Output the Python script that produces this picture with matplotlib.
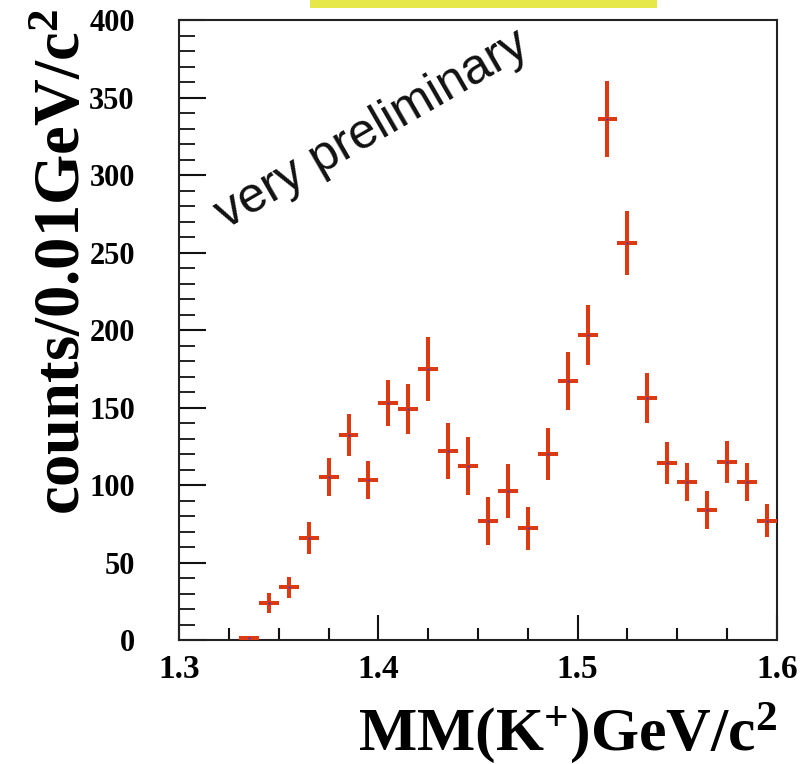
import matplotlib
matplotlib.use("Agg")
import matplotlib.pyplot as plt
from matplotlib.patches import Rectangle
from matplotlib.ticker import MultipleLocator

# ---- data ----
mass = [1.335, 1.345, 1.355, 1.365, 1.375, 1.385, 1.395, 1.405, 1.415, 1.425,
        1.435, 1.445, 1.455, 1.465, 1.475, 1.485, 1.495, 1.505, 1.515, 1.525,
        1.535, 1.545, 1.555, 1.565, 1.575, 1.585, 1.595]
counts = [1, 24, 34, 66, 105, 132, 103, 153, 149, 175,
          122, 112, 77, 96, 72, 120, 167, 197, 336, 256,
          156, 114, 102, 84, 115, 102, 77]
count_err = [1, 6.3, 6.8, 10.2, 12.2, 13.5, 12.2, 14.7, 16, 20.8,
             18, 18.7, 15.4, 17.5, 14, 16.7, 18.7, 19.3, 24.6, 20.7,
             16, 13.5, 12.2, 12.2, 13.5, 12.2, 10.8]
bin_half = 0.005
xticks = [1.3, 1.4, 1.5, 1.6]
xticklabels = ["1.3", "1.4", "1.5", "1.6"]
yticks = [0, 50, 100, 150, 200, 250, 300, 350, 400]

plt.rcParams['mathtext.fontset'] = 'custom'
plt.rcParams['mathtext.rm'] = 'Liberation Serif:bold'
plt.rcParams['mathtext.bf'] = 'Liberation Serif:bold'
plt.rcParams['mathtext.default'] = 'rm'

fig = plt.figure(figsize=(8.0, 7.64), dpi=100)
ax = fig.add_axes([0.224, 0.1623, 0.747, 0.8115])

red = '#dd3a12'
ax.errorbar(mass, counts, yerr=count_err, xerr=bin_half, fmt='o', ms=1.6,
            mfc='#3a3ad0', mec='none', ecolor=red, elinewidth=2.9, capsize=0,
            zorder=3)

ax.set_xlim(1.3, 1.6)
ax.set_ylim(0, 400)
ax.set_xticks(xticks)
ax.set_xticklabels(xticklabels)
ax.set_yticks(yticks)
ax.xaxis.set_minor_locator(MultipleLocator(0.025))
ax.yaxis.set_minor_locator(MultipleLocator(10))

for s in ax.spines.values():
    s.set_linewidth(1.5)
    s.set_color('#222222')

ax.tick_params(axis='both', which='both', direction='in', color='#111111')
ax.tick_params(axis='x', which='major', length=18, width=1.5, pad=10)
ax.tick_params(axis='x', which='minor', length=9, width=1.5)
ax.tick_params(axis='y', which='major', length=19.5, width=1.5, pad=32)
ax.tick_params(axis='y', which='minor', length=11.3, width=1.3)
ax.tick_params(top=False, right=False, which='both')

for lab in ax.get_xticklabels():
    lab.set_fontfamily('Liberation Serif')
    lab.set_fontweight('bold')
    lab.set_fontsize(24)
for lab in ax.get_yticklabels():
    lab.set_fontfamily('Liberation Serif')
    lab.set_fontweight('bold')
    lab.set_fontsize(22)

fig.text(0.971, 0.019, r"MM(K$^{+}$)GeV/c$^{2}$", ha='right', va='baseline',
         fontfamily='Liberation Serif', fontweight='bold', fontsize=44.5)
fig.text(0.1, 0.657, r"counts/0.01GeV/c$^{2}$", ha='center', va='baseline',
         rotation=90, rotation_mode='anchor',
         fontfamily='Liberation Serif', fontweight='bold', fontsize=46.5)

ax.text(0.465, 0.83, "very preliminary", transform=fig.transFigure,
        ha='center', va='center', rotation=30, rotation_mode='anchor',
        fontfamily='Liberation Sans', fontsize=36, color='#111111')

fig.patches.append(Rectangle((310 / 800, 1 - 8 / 764), 347 / 800, 8 / 764,
                             transform=fig.transFigure, facecolor='#e6e84a',
                             edgecolor='none'))

fig.savefig("out.png", dpi=100)
